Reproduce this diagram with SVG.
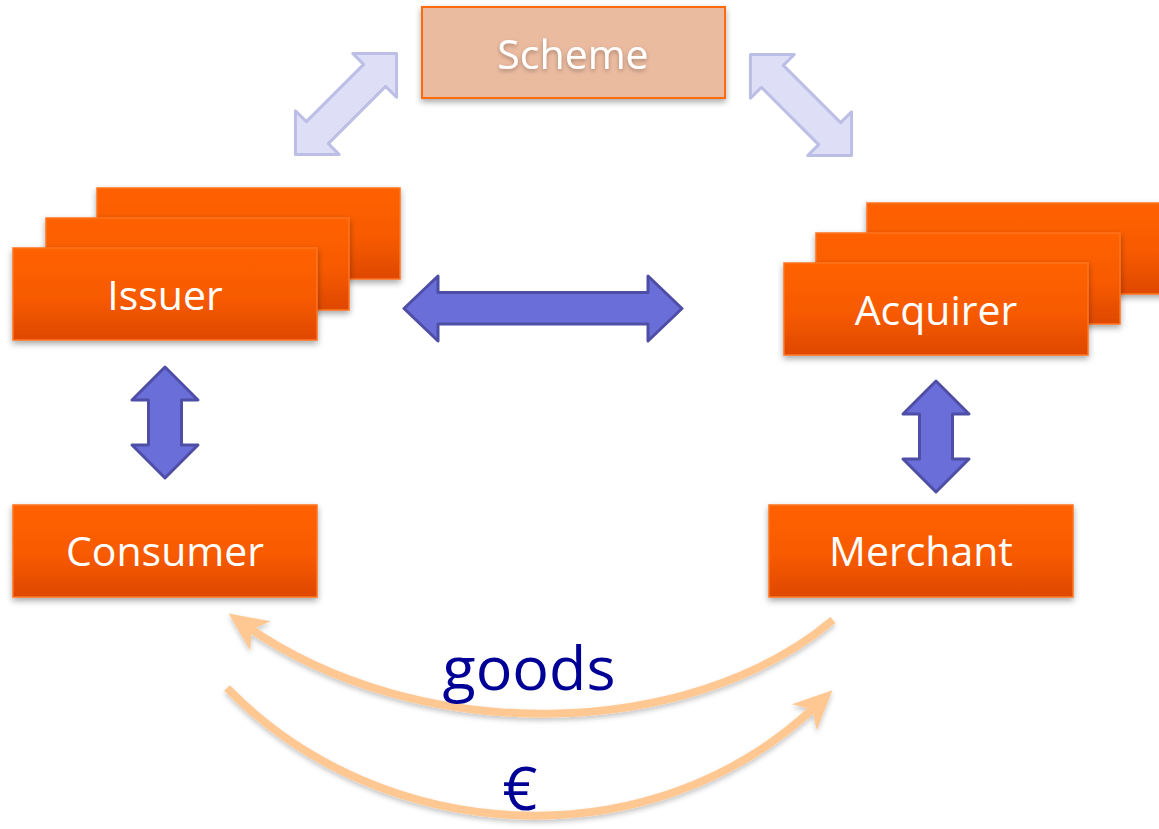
<svg xmlns="http://www.w3.org/2000/svg" width="1159" height="829" viewBox="0 0 1159 829">
  <defs>
    <linearGradient id="og" x1="0" y1="0" x2="0" y2="1">
      <stop offset="0" stop-color="#FF6200"/>
      <stop offset="0.55" stop-color="#F75A00"/>
      <stop offset="1" stop-color="#DE4800"/>
    </linearGradient>
    <filter id="sh" x="-10%" y="-20%" width="120%" height="150%">
      <feDropShadow dx="0" dy="3" stdDeviation="3" flood-color="#000" flood-opacity="0.35"/>
    </filter>
    <filter id="tsh" x="-10%" y="-20%" width="120%" height="150%">
      <feDropShadow dx="0" dy="2" stdDeviation="2" flood-color="#000" flood-opacity="0.3"/>
    </filter>
    <filter id="csh" x="-10%" y="-20%" width="120%" height="150%">
      <feDropShadow dx="0" dy="3" stdDeviation="2.5" flood-color="#000" flood-opacity="0.22"/>
    </filter>
    <marker id="ah" markerUnits="userSpaceOnUse" viewBox="-22 -20 44 40" markerWidth="44" markerHeight="40" refX="0" refY="0" orient="auto">
      <path d="M20,0 L-19,-18 L-8,0 L-19,18 Z" fill="#FFC893"/>
    </marker>
    <style>
      .box { fill: url(#og); stroke: #FF7420; stroke-width: 1.5; filter: url(#sh); }
      .lbl { font-family: "Open Sans", "Noto Sans", sans-serif; font-size: 41px; fill: #FFFFFF; text-anchor: middle; }
      .big { font-family: "Open Sans", "Noto Sans", sans-serif; font-size: 61px; fill: #000096; text-anchor: middle; }
      .darr { fill: #6A6ED8; stroke: #4E4EA6; stroke-width: 3; stroke-linejoin: round; }
      .larr { fill: #DEDEF7; stroke: #BDBEE6; stroke-width: 3; stroke-linejoin: round; }
      .flow { fill: none; stroke: #FFC893; stroke-width: 8; marker-end: url(#ah); filter: url(#csh); }
    </style>
  </defs>

  <g id="connectors">
    <polygon class="larr" transform="translate(346,104) rotate(-45)" points="-71.5,0 -40.5,-31 -40.5,-15.5 40.5,-15.5 40.5,-31 71.5,0 40.5,31 40.5,15.5 -40.5,15.5 -40.5,31"/>
    <polygon class="larr" transform="translate(801,105) rotate(45)" points="-71.5,0 -40.5,-31 -40.5,-15.5 40.5,-15.5 40.5,-31 71.5,0 40.5,31 40.5,15.5 -40.5,15.5 -40.5,31"/>
    <polygon class="darr" points="404,308.5 438,276 438,292.5 648,292.5 648,276 682,308.5 648,341 648,324 438,324 438,341"/>
    <polygon class="darr" points="165,367 198,400 181.5,400 181.5,445 198,445 165,478 132,445 148.5,445 148.5,400 132,400"/>
    <polygon class="darr" points="936,381 969,414 952.5,414 952.5,459 969,459 936,492 903,459 919.5,459 919.5,414 903,414"/>
    <path class="flow" d="M833,620 C690,740 420,748 245,625"/>
    <path class="flow" d="M227,688 C380,845 650,865 818,704"/>
  </g>

  <g id="scheme">
    <rect x="422" y="7" width="303" height="91" fill="#EBBBA0" stroke="#FF6A10" stroke-width="2" filter="url(#sh)"/>
    <text class="lbl" x="573" y="69" filter="url(#tsh)">Scheme</text>
  </g>

  <g id="issuer">
    <rect class="box" x="97" y="188" width="303" height="91"/>
    <rect class="box" x="46" y="218" width="303" height="92"/>
    <rect class="box" x="13" y="248" width="304" height="92"/>
    <text class="lbl" x="165" y="310">Issuer</text>
  </g>

  <g id="acquirer">
    <rect class="box" x="867" y="203" width="300" height="91"/>
    <rect class="box" x="816" y="233" width="304" height="91"/>
    <rect class="box" x="784" y="263" width="304" height="92"/>
    <text class="lbl" x="936" y="325">Acquirer</text>
  </g>

  <g id="consumer">
    <rect class="box" x="13" y="505" width="304" height="92"/>
    <text class="lbl" x="165" y="566">Consumer</text>
  </g>

  <g id="merchant">
    <rect class="box" x="769" y="505" width="304" height="92"/>
    <text class="lbl" x="921" y="566">Merchant</text>
  </g>

  <g id="labels">
    <text class="big" x="529" y="690">goods</text>
    <text class="big" x="520" y="810">€</text>
  </g>
</svg>
